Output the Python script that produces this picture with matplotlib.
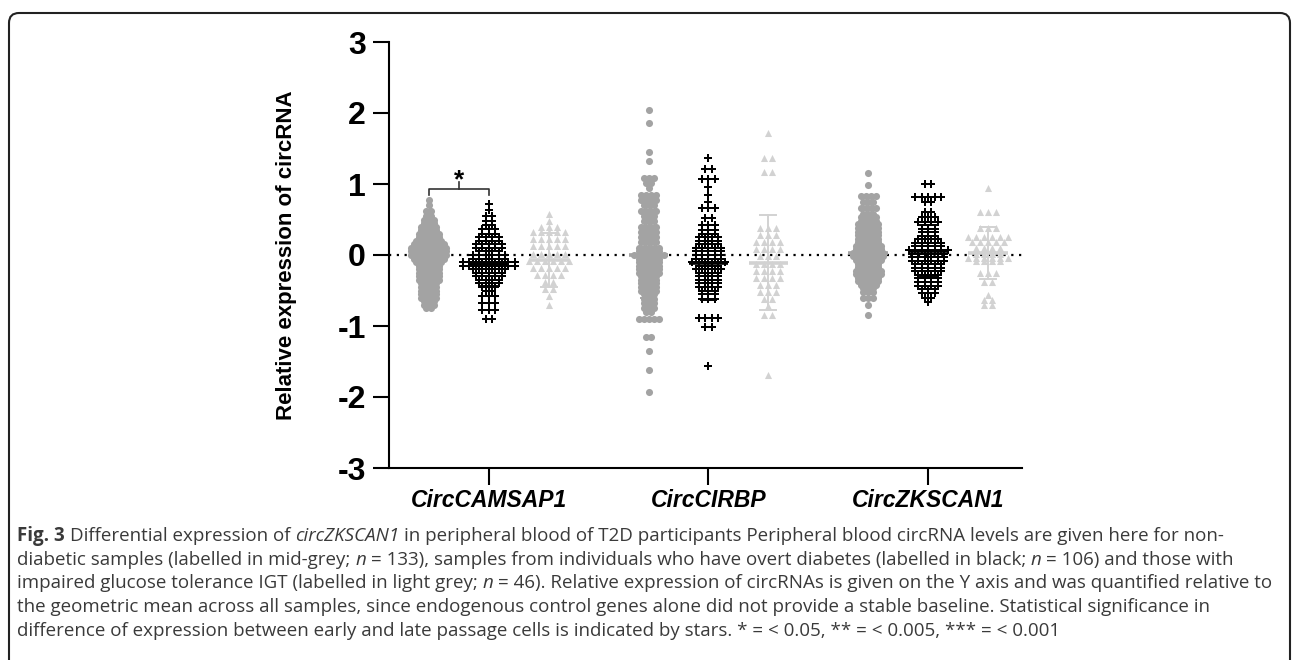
import numpy as np
import matplotlib
matplotlib.use('Agg')
import matplotlib.pyplot as plt
from matplotlib.patches import FancyBboxPatch
from matplotlib.transforms import IdentityTransform

plt.rcParams['axes.unicode_minus'] = False
W, H = 1292, 660

genes = ['CircCAMSAP1', 'CircCIRBP', 'CircZKSCAN1']

# swarm rows: row value and number of dots in that row
camsap1_nd_y = [0.77, 0.70, 0.62, 0.55, 0.50, 0.45, 0.40, 0.35, 0.30, 0.25, 0.20, 0.15, 0.10, 0.05, 0.00,
                -0.05, -0.10, -0.15, -0.20, -0.25, -0.30, -0.35, -0.40, -0.45, -0.50, -0.55, -0.60, -0.65, -0.70, -0.75]
camsap1_nd_n = [1, 1, 2, 2, 3, 3, 4, 4, 5, 5, 6, 7, 8, 8, 8, 7, 6, 5, 5, 5, 5, 5, 4, 4, 4, 4, 4, 3, 3, 2]
camsap1_t2d_y = [0.72, 0.63, 0.55, 0.48, 0.42, 0.36, 0.30, 0.25, 0.20, 0.15, 0.10, 0.05, 0.00, -0.05, -0.10,
                 -0.15, -0.20, -0.25, -0.30, -0.35, -0.40, -0.45, -0.50, -0.58, -0.68, -0.78, -0.90]
camsap1_t2d_n = [1, 1, 2, 2, 2, 3, 3, 4, 4, 5, 5, 4, 6, 6, 9, 9, 6, 5, 5, 4, 4, 3, 2, 3, 3, 3, 2]
camsap1_igt_y = [0.58, 0.48, 0.40, 0.32, 0.22, 0.12, 0.02, -0.08, -0.18, -0.28, -0.38, -0.48, -0.58, -0.70]
camsap1_igt_n = [1, 1, 3, 5, 5, 5, 5, 6, 5, 4, 2, 2, 1, 1]

cirbp_nd_y = [2.04, 1.86, 1.45, 1.32, 1.08, 1.02, 0.95, 0.85, 0.78, 0.70, 0.62, 0.55, 0.48, 0.40, 0.32, 0.25,
              0.18, 0.10, 0.05, 0.00, -0.05, -0.10, -0.15, -0.20, -0.25, -0.30, -0.35, -0.40, -0.45, -0.50,
              -0.55, -0.62, -0.68, -0.75, -0.80, -0.90, -1.15, -1.35, -1.62, -1.93]
cirbp_nd_n = [1, 1, 1, 1, 3, 2, 1, 4, 4, 3, 4, 3, 3, 4, 4, 4, 4, 5, 5, 7, 5, 5, 5, 5, 5, 4, 4, 4, 4, 4,
              3, 3, 3, 3, 2, 5, 2, 1, 1, 1]
cirbp_t2d_y = [1.36, 1.21, 1.07, 0.96, 0.85, 0.75, 0.66, 0.52, 0.42, 0.35, 0.30, 0.25, 0.20, 0.15, 0.10, 0.05,
               0.00, -0.05, -0.10, -0.15, -0.20, -0.25, -0.30, -0.35, -0.40, -0.45, -0.50, -0.55, -0.62,
               -0.89, -1.02, -1.56]
cirbp_t2d_n = [1, 2, 3, 1, 1, 1, 3, 2, 3, 3, 3, 4, 4, 4, 5, 5, 5, 5, 6, 4, 5, 4, 4, 4, 4, 4, 3, 3, 3, 4, 2, 1]
cirbp_igt_y = [1.72, 1.37, 1.17, 0.38, 0.28, 0.18, 0.08, -0.02, -0.12, -0.22, -0.32, -0.42, -0.52, -0.62,
               -0.72, -0.85, -1.69]
cirbp_igt_n = [1, 2, 2, 3, 3, 4, 4, 3, 4, 4, 4, 3, 3, 2, 1, 2, 1]

zkscan1_nd_y = [1.16, 0.99, 0.83, 0.75, 0.66, 0.58, 0.53, 0.48, 0.43, 0.38, 0.33, 0.28, 0.23, 0.18, 0.13, 0.08,
                0.03, -0.02, -0.07, -0.12, -0.17, -0.22, -0.27, -0.32, -0.37, -0.42, -0.47, -0.52, -0.60,
                -0.71, -0.85]
zkscan1_nd_n = [1, 1, 4, 3, 4, 3, 4, 4, 5, 5, 5, 5, 5, 5, 6, 6, 7, 7, 6, 5, 5, 6, 6, 5, 5, 4, 3, 3, 3, 1, 1]
zkscan1_t2d_y = [1.00, 0.82, 0.75, 0.61, 0.53, 0.47, 0.37, 0.32, 0.27, 0.22, 0.17, 0.12, 0.07, 0.02, -0.03,
                 -0.08, -0.13, -0.18, -0.23, -0.28, -0.33, -0.38, -0.43, -0.48, -0.53, -0.60, -0.66]
zkscan1_t2d_n = [2, 5, 2, 2, 3, 4, 3, 3, 3, 4, 5, 5, 7, 6, 6, 6, 5, 5, 5, 4, 4, 4, 4, 3, 3, 2, 1]
zkscan1_igt_y = [0.94, 0.61, 0.38, 0.26, 0.19, 0.10, 0.02, -0.04, -0.09, -0.26, -0.38, -0.56, -0.63, -0.70]
zkscan1_igt_n = [1, 3, 3, 6, 5, 4, 4, 6, 4, 3, 2, 1, 2, 2]

# mean +/- SD bars, rows = genes, cols = non-diabetic, T2D, IGT
means = [[-0.02, -0.12, -0.07], [0.00, -0.11, -0.11], [0.03, 0.06, 0.03]]
sds = [[0.33, 0.32, 0.38], [0.60, 0.53, 0.67], [0.35, 0.36, 0.37]]

rows = [[(camsap1_nd_y, camsap1_nd_n), (camsap1_t2d_y, camsap1_t2d_n), (camsap1_igt_y, camsap1_igt_n)],
        [(cirbp_nd_y, cirbp_nd_n), (cirbp_t2d_y, cirbp_t2d_n), (cirbp_igt_y, cirbp_igt_n)],
        [(zkscan1_nd_y, zkscan1_nd_n), (zkscan1_t2d_y, zkscan1_t2d_n), (zkscan1_igt_y, zkscan1_igt_n)]]

colors = ['#a3a3a3', '#000000', '#d2d2d2']
markers = ['o', 'P', '^']
msizes = [26, 34, 26]
px = 1 / 220.0
spacing = [5 * px, 6.5 * px, 8 * px]
offsets = [-60 * px, 0, 60 * px]

fig = plt.figure(figsize=(W / 100, H / 100), dpi=100)
ax = fig.add_axes([389 / W, 1 - 468 / H, (1022 - 389) / W, (468 - 42) / H])

ax.axhline(0, color='black', lw=1.6, ls=(0, (1, 2.5)), zorder=1)

for g in range(3):
    for k in range(3):
        yv, nv = rows[g][k]
        xs, ys = [], []
        for y, n in zip(yv, nv):
            for j in range(n):
                xs.append(g + offsets[k] + (j - (n - 1) / 2) * spacing[k])
                ys.append(y)
        ax.scatter(xs, ys, s=msizes[k], marker=markers[k], color=colors[k], lw=0, zorder=2)
        xc = g + offsets[k]
        m, sd = means[g][k], sds[g][k]
        ax.plot([xc - 0.09, xc + 0.09], [m, m], color=colors[k], lw=2.6, zorder=3, solid_capstyle='butt')
        ax.plot([xc, xc], [m - sd, m + sd], color=colors[k], lw=1.4, zorder=3)
        for e in (m - sd, m + sd):
            ax.plot([xc - 0.036, xc + 0.036], [e, e], color=colors[k], lw=1.4, zorder=3)

# significance bracket between non-diabetic and T2D for CircCAMSAP1
x1, x2 = offsets[0], offsets[1]
ax.plot([x1, x1, x2, x2], [0.85, 0.93, 0.93, 0.85], color='#333333', lw=1.2)
ax.plot([(x1 + x2) / 2] * 2, [0.93, 1.03], color='#333333', lw=1.2)
ax.text((x1 + x2) / 2, 0.96, '*', ha='center', va='baseline', fontsize=19, fontweight='bold',
        family='Liberation Sans')

ax.set_xlim(-100 * px, 2 + 94 * px)
ax.set_ylim(-3, 3)
ax.set_yticks([-3, -2, -1, 0, 1, 2, 3])
ax.set_xticks([0, 1, 2])
ax.set_xticklabels(genes, fontsize=16.5, fontweight='bold', style='italic', family='Liberation Sans')
for lab in ax.get_yticklabels():
    lab.set_fontsize(23)
    lab.set_fontweight('bold')
    lab.set_family('Liberation Sans')
ax.tick_params(axis='y', length=11.5, width=1.5, pad=5)
ax.tick_params(axis='x', length=12, width=1.5, pad=3)
for s in ['top', 'right']:
    ax.spines[s].set_visible(False)
for s in ['left', 'bottom']:
    ax.spines[s].set_linewidth(1.5)
ax.set_ylabel('Relative expression of circRNA', fontsize=16, fontweight='bold', family='Liberation Sans')
ax.yaxis.set_label_coords((297 - 389) / (1022 - 389), 0.5)

# frame round the figure, open at the bottom
frame = FancyBboxPatch((9, -40), 1281, H - 13 + 40, boxstyle='round,pad=0,rounding_size=10',
                       transform=IdentityTransform(), fill=False, lw=1.5, edgecolor='#222222')
fig.add_artist(frame)

# caption
cap_font = 'Open Sans'
cap_color = '#3a3a3a'
styles = {'n': {}, 'b': {'fontweight': 'bold'}, 'i': {'style': 'italic'}}
caption = [
    [('Fig. 3', 'b'), ('Differential expression of', 'n'), ('circZKSCAN1', 'i'),
     ('in peripheral blood of T2D participants Peripheral blood circRNA levels are given here for non-', 'n')],
    [('diabetic samples (labelled in mid-grey;', 'n'), ('n', 'i'),
     ('= 133), samples from individuals who have overt diabetes (labelled in black;', 'n'), ('n', 'i'),
     ('= 106) and those with', 'n')],
    [('impaired glucose tolerance IGT (labelled in light grey;', 'n'), ('n', 'i'),
     ('= 46). Relative expression of circRNAs is given on the Y axis and was quantified relative to', 'n')],
    [('the geometric mean across all samples, since endogenous control genes alone did not provide a stable '
      'baseline. Statistical significance in', 'n')],
    [('difference of expression between early and late passage cells is indicated by stars. * = < 0.05, '
      '** = < 0.005, *** = < 0.001', 'n')],
]

renderer = fig.canvas.get_renderer()


def put_line(parts, y, size, draw=True):
    x = 17
    sp_a = fig.text(0, 0, 'x x', fontsize=size, family=cap_font)
    sp_b = fig.text(0, 0, 'xx', fontsize=size, family=cap_font)
    space = sp_a.get_window_extent(renderer).width - sp_b.get_window_extent(renderer).width
    sp_a.remove()
    sp_b.remove()
    for i, (txt, st) in enumerate(parts):
        t = fig.text(x / W, 1 - y / H, txt, fontsize=size, family=cap_font, color=cap_color,
                     ha='left', va='baseline', **styles[st])
        x += t.get_window_extent(renderer).width + space
        if not draw:
            t.remove()
    return x - space


# fit the font size so the third line spans the same width as in the figure
w10 = put_line(caption[2], 0, 10, draw=False) - 17
cap_size = 10 * (1274 - 17) / w10
for i, parts in enumerate(caption):
    put_line(parts, 541 + i * 23.7, cap_size)

fig.savefig('out.png', dpi=100)
